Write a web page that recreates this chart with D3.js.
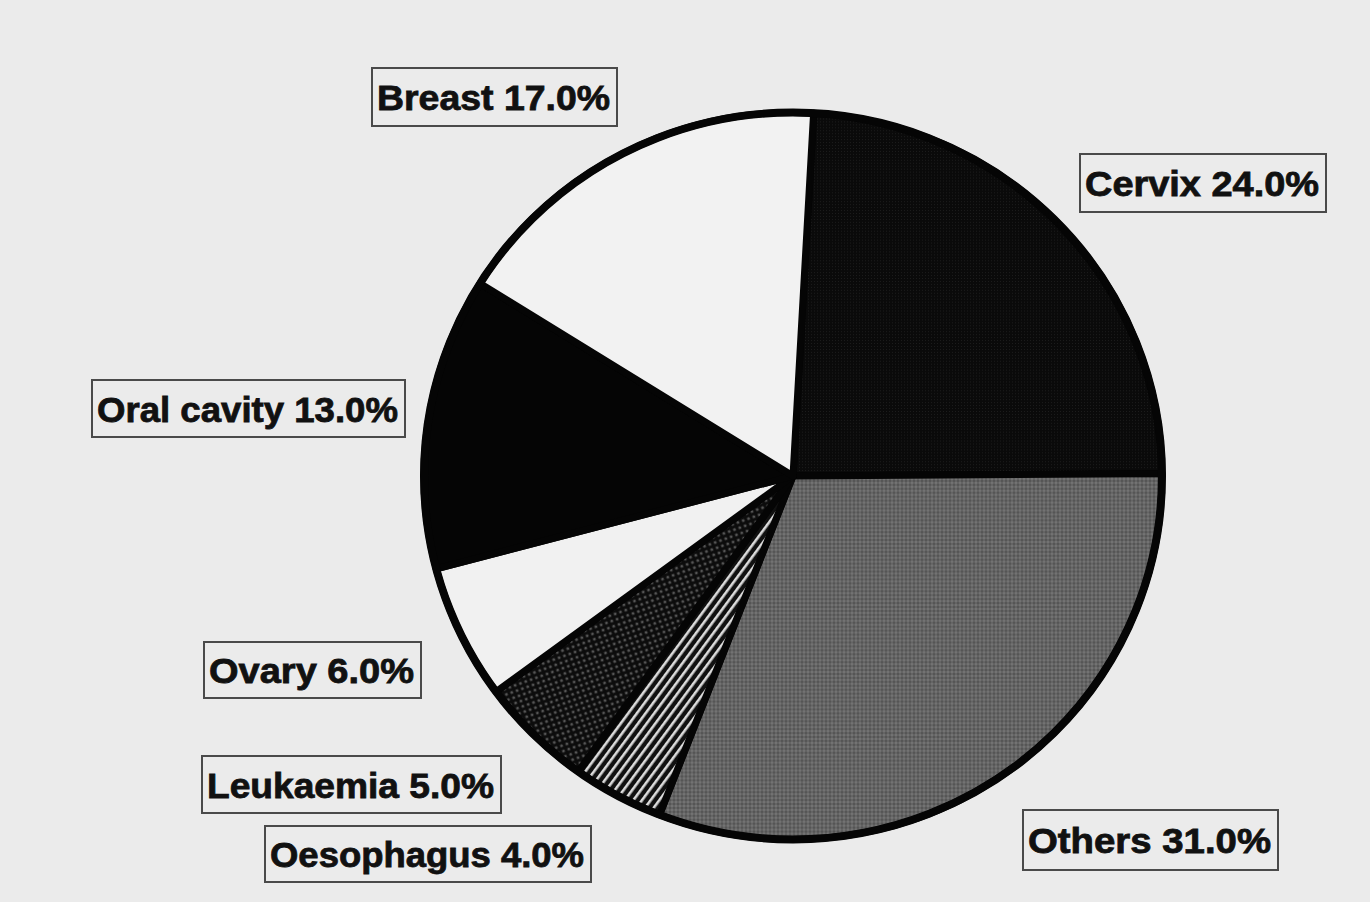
<!DOCTYPE html>
<html>
<head>
<meta charset="utf-8">
<script src="https://cdn.jsdelivr.net/npm/d3@7"></script>
<style>
  html, body { margin: 0; padding: 0; background: #ebebeb; }
  svg { display: block; }
</style>
</head>
<body>
<svg id="chart" width="1370" height="902"></svg>
<script>
// ---- data ----
const categories = ["Cervix", "Others", "Oesophagus", "Leukaemia", "Ovary", "Oral cavity", "Breast"];
const values = [24.0, 31.0, 4.0, 5.0, 6.0, 13.0, 17.0];
const labelTexts = categories.map((c, i) => `${c} ${values[i].toFixed(1)}%`);

// ---- layout (boxes for labels, by category order) ----
const labelBoxes = [
  {x: 1080, y: 154, w: 246, h: 58},   // Cervix
  {x: 1023, y: 810, w: 255, h: 60},   // Others
  {x: 265,  y: 826, w: 326, h: 56},   // Oesophagus
  {x: 202,  y: 756, w: 299, h: 57},   // Leukaemia
  {x: 204,  y: 642, w: 217, h: 56},   // Ovary
  {x: 92,   y: 380, w: 313, h: 57},   // Oral cavity
  {x: 372,  y: 68,  w: 245, h: 58}    // Breast
];
const fills = ["url(#pCervix)", "url(#pOthers)", "url(#pStripes)", "url(#pDots)", "#f1f1f1", "#050505", "#f2f2f2"];

const svg = d3.select("#chart");
svg.append("rect").attr("width", 1370).attr("height", 902).attr("fill", "#ebebeb");

const defs = svg.append("defs");
// Cervix: near-black fine grid
const pc = defs.append("pattern").attr("id", "pCervix").attr("patternUnits", "userSpaceOnUse")
  .attr("width", 3).attr("height", 3);
pc.append("rect").attr("width", 3).attr("height", 3).attr("fill", "#0a0a0a");
pc.append("rect").attr("width", 1).attr("height", 1).attr("fill", "#1c1c1c");

// Others: grey mottled texture
const po = defs.append("pattern").attr("id", "pOthers").attr("patternUnits", "userSpaceOnUse")
  .attr("width", 4).attr("height", 4);
po.append("rect").attr("width", 4).attr("height", 4).attr("fill", "#646464");
po.append("rect").attr("width", 2).attr("height", 2).attr("fill", "#555555");
po.append("rect").attr("x", 2).attr("y", 2).attr("width", 2).attr("height", 2).attr("fill", "#737373");

// Oesophagus: diagonal stripes
const ps = defs.append("pattern").attr("id", "pStripes").attr("patternUnits", "userSpaceOnUse")
  .attr("width", 7).attr("height", 10).attr("patternTransform", "rotate(36)");
ps.append("rect").attr("width", 7).attr("height", 10).attr("fill", "#111");
ps.append("rect").attr("x", 0).attr("width", 2.6).attr("height", 10).attr("fill", "#dcdcdc");

// Leukaemia: black with grey dots
const pd = defs.append("pattern").attr("id", "pDots").attr("patternUnits", "userSpaceOnUse")
  .attr("width", 8).attr("height", 8).attr("patternTransform", "rotate(25)");
pd.append("rect").attr("width", 8).attr("height", 8).attr("fill", "#0c0c0c");
pd.append("circle").attr("cx", 2).attr("cy", 2).attr("r", 1.5).attr("fill", "#555");
pd.append("circle").attr("cx", 6).attr("cy", 6).attr("r", 1.5).attr("fill", "#555");

// ---- pie ----
const rot = 3.2 * Math.PI / 180;
const pie = d3.pie().sort(null).value(d => d).startAngle(rot).endAngle(rot + 2 * Math.PI);
const arc = d3.arc().innerRadius(0).outerRadius(369);

const g = svg.append("g").attr("transform", "translate(793,476) scale(1,0.985)");
g.selectAll("path.slice")
  .data(pie(values))
  .join("path")
  .attr("class", "slice")
  .attr("d", arc)
  .attr("fill", (d, i) => fills[i])
  .attr("stroke", "#050505")
  .attr("stroke-width", 7)
  .attr("stroke-linejoin", "round");
g.append("circle").attr("r", 369).attr("fill", "none").attr("stroke", "#050505").attr("stroke-width", 8);

// ---- labels ----
const lab = svg.append("g").selectAll("g.lab").data(categories).join("g").attr("class", "lab");
lab.append("rect")
  .attr("x", (d, i) => labelBoxes[i].x)
  .attr("y", (d, i) => labelBoxes[i].y)
  .attr("width", (d, i) => labelBoxes[i].w)
  .attr("height", (d, i) => labelBoxes[i].h)
  .attr("fill", "none")
  .attr("stroke", "#4a4a4a")
  .attr("stroke-width", 2);
lab.append("text")
  .attr("x", (d, i) => labelBoxes[i].x + 5)
  .attr("y", (d, i) => labelBoxes[i].y + labelBoxes[i].h / 2 + 13)
  .attr("font-family", "'Liberation Sans', Arial, sans-serif")
  .attr("font-weight", "bold")
  .attr("font-size", 35)
  .attr("fill", "#111")
  .attr("stroke", "#111")
  .attr("stroke-width", 0.8)
  .attr("textLength", (d, i) => labelBoxes[i].w - 12)
  .attr("lengthAdjust", "spacingAndGlyphs")
  .text((d, i) => labelTexts[i]);
</script>
</body>
</html>
